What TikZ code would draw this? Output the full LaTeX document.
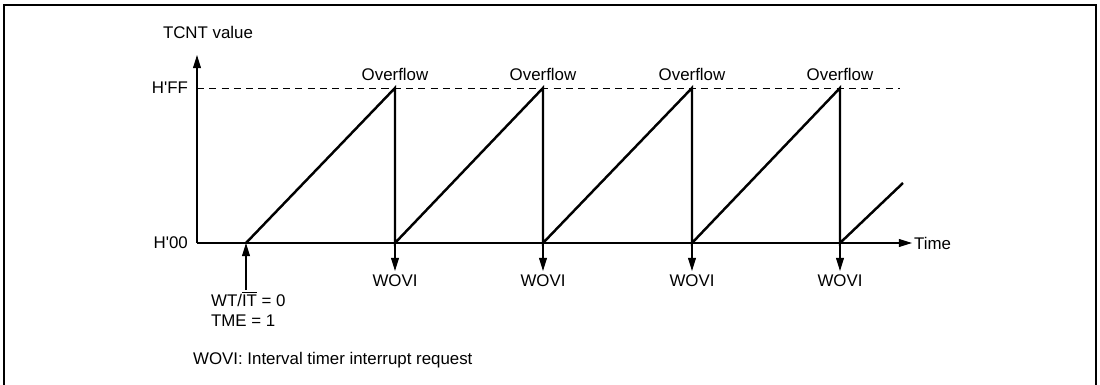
\documentclass[tikz,border=0pt]{standalone}
\usepackage{fontspec}
\setmainfont{Liberation Sans}
\usetikzlibrary{arrows.meta,positioning}

\begin{document}
\begin{tikzpicture}[x=0.02cm,y=-0.02cm,
  lbl/.style={font=\fontsize{9.6}{11.5}\selectfont,inner sep=1pt},
  axis/.style={line width=0.7pt,-{Triangle[length=7.5pt,width=4.5pt]}},
  ramp/.style={line width=1.4pt,line join=miter},
  flag/.style={line width=0.7pt,-{Triangle[length=7.5pt,width=4.5pt]}},
]
  \useasboundingbox (0,0) rectangle (1100,385);
  \draw[line width=1.5pt] (4,386) -- (4,5) -- (1096,5) -- (1096,386);

  % axes
  \coordinate (o) at (197,243);
  \coordinate (ytop) at (197,55);
  \coordinate (xend) at (912,243);
  \draw[axis] (o) -- (ytop);
  \draw[axis] (o) -- (xend);
  \node[lbl,anchor=west] (tlab) at (xend) {Time};
  \node[lbl] (ylab) at (208,32) {TCNT value};
  \node[lbl,left=4pt of o] (zero) {H\textquotesingle 00};

  % overflow level
  \coordinate (ff) at (197,88);
  \coordinate (ffend) at (900,88);
  \draw[line width=0.5pt,dash pattern=on 4pt off 3pt] (ff) -- (ffend);
  \node[lbl,left=4pt of ff] (full) {H\textquotesingle FF};

  % sawtooth
  \coordinate (b0) at (246,243);
  \coordinate (last) at (903,183);
  \foreach \i/\x in {1/395,2/543,3/692,4/840}{
    \coordinate (t\i) at (\x,88);
    \coordinate (b\i) at (\x,243);
    \coordinate (w\i) at (\x,271);
    \node[lbl,above=3pt of t\i] (ovf\i) {Overflow};
    \draw[flag] (b\i) -- (w\i);
    \node[lbl,below=1pt of w\i] (wovi\i) {WOVI};
  }
  \draw[ramp] (b0) -- (t1) -- (b1) -- (t2) -- (b2) -- (t3) -- (b3)
    -- (t4) -- (b4) -- (last);

  % start condition
  \coordinate (wt) at (246,290);
  \draw[flag] (wt) -- (b0);
  \node[lbl,anchor=west] (cond1) at (209,299) {WT/$\overline{\mbox{IT}}$ = 0};
  \node[lbl,anchor=west] (cond2) at (209,321) {TME = 1};

  \node[lbl,anchor=west] (note) at (191,360) {WOVI: Interval timer interrupt request};
\end{tikzpicture}
\end{document}
